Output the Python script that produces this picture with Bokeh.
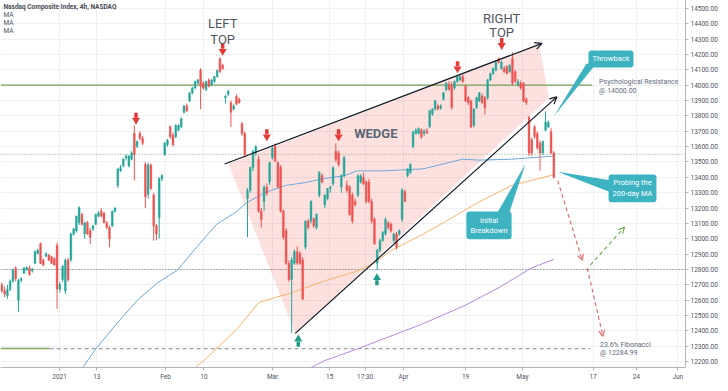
import numpy as np
from bokeh.plotting import figure
from bokeh.models import Range1d, FixedTicker, NumeralTickFormatter, Label, Arrow, OpenHead
from bokeh.embed import file_html
from bokeh.resources import INLINE

# ---------------- data (4h candles, Nasdaq Composite) ----------------
candles = [
(12700,12715,12650,12660),(12660,12690,12620,12640),(12629,12700,12610,12672),(12672,12735,12660,12724),
(12724,12805,12714,12800),(12809,12820,12724,12740),(12600,12740,12524,12730),(12730,12750,12715,12740),
(12777,12815,12770,12809),(12800,12820,12790,12812),(12809,12825,12760,12767),(12790,12810,12780,12800),
(12841,12925,12835,12915),(12904,12935,12900,12925),(12968,12975,12835,12841),(12862,12870,12820,12830),
(12887,12910,12880,12904),(12894,12900,12855,12862),(12883,12890,12835,12841),(12870,12880,12825,12830),
(12957,12975,12545,12672),(12672,12720,12650,12703),(12735,12830,12720,12820),(12661,12870,12640,12862),
(12862,12875,12720,12735),(12862,13040,12850,13031),(13031,13070,13020,13063),(13052,13150,13040,13147),
(13105,13210,13090,13204),(13158,13170,13085,13094),(13031,13110,13000,13105),(13105,13115,13025,13031),
(13052,13070,12965,13010),(13063,13090,13050,13084),(13094,13165,13090,13158),(13147,13180,13140,13168),
(13179,13200,13140,13147),(13168,13175,13100,13105),(13105,13115,13065,13073),(13073,13085,12945,12999),
(13084,13185,13075,13179),(13179,13205,13170,13200),(13348,13460,13330,13453),(13443,13480,13435,13464),
(13474,13525,13465,13517),(13527,13550,13510,13538),(13474,13545,13465,13538),(13517,13570,13510,13559),
(13685,13738,13380,13548),(13601,13640,13590,13633),(13685,13700,13640,13654),(13654,13670,13610,13622),
(13485,13500,13200,13274),(13290,13495,13260,13480),(13480,13490,13320,13327),(13284,13300,12988,13084),
(13084,13095,12990,13031),(13137,13400,13000,13390),(13390,13420,13375,13411),(13548,13630,13540,13622),
(13612,13650,13600,13643),(13728,13740,13650,13664),(13675,13690,13600,13612),(13664,13745,13655,13738),
(13707,13745,13700,13738),(13728,13790,13720,13781),(13823,13870,13815,13865),(13865,13880,13825,13833),
(13897,13955,13890,13949),(13949,13990,13940,13981),(13981,14030,13975,14023),(14013,14040,14005,14034),
(14097,14110,13844,13992),(14013,14025,13970,13981),(13971,14030,13960,14023),(14034,14045,13985,13992),
(14002,14040,13995,14034),(14023,14060,14015,14055),(14055,14100,14050,14097),(14171,14182,14080,14087),
(14129,14140,14100,14108),(13918,13935,13880,13928),(13939,13970,13930,13960),(13886,13900,13728,13823),
(13844,13875,13835,13865),(13928,13940,13870,13876),(13907,13920,13880,13886),(13749,13760,13670,13685),
(13685,13700,13530,13548),(13263,13330,13010,13316),(13316,13470,13300,13464),(13464,13580,13440,13569),
(13559,13610,13540,13601),(13517,13540,13170,13179),(13179,13200,13073,13126),(13242,13350,13180,13337),
(13337,13360,13280,13295),(13369,13500,13350,13495),(13527,13600,13515,13590),(13601,13620,13500,13506),
(13495,13505,13330,13337),(13464,13480,13170,13179),(13179,13190,12995,13010),(13052,13070,12830,12841),
(12841,12860,12720,12735),(12735,12880,12387,12862),(12841,12930,12830,12915),(12915,12950,12830,12841),
(12904,12920,12830,12841),(12862,12880,12600,12608),(12946,13120,12930,13115),(13115,13130,13060,13073),
(13115,13250,13100,13242),(13130,13140,13070,13084),(13073,13165,13060,13158),(13284,13440,13270,13432),
(13411,13425,13360,13369),(13221,13290,13200,13284),(13263,13330,13250,13327),(13327,13345,13300,13337),
(13358,13470,13345,13464),(13569,13622,13500,13517),(13559,13575,13470,13485),(13337,13420,13300,13411),
(13411,13540,13400,13527),(13348,13380,13300,13316),(13337,13350,13150,13158),(13284,13300,13100,13115),
(13242,13260,13210,13221),(13284,13420,13270,13411),(13369,13420,13360,13411),(13400,13430,13350,13358),
(13369,13380,13230,13242),(13369,13390,13230,13242),(13242,13260,13100,13115),(13126,13140,12960,12968),
(12841,12935,12798,12925),(12925,13000,12910,12989),(12989,13050,12980,13041),(13031,13140,13020,13126),
(13105,13115,13060,13073),(13094,13105,13040,13052),(12989,13040,12970,13031),(13031,13045,12930,12946),
(13031,13060,13020,13052),(13126,13330,13110,13316),(13306,13320,13240,13242),(13411,13460,13400,13453),
(13432,13490,13420,13485),(13601,13700,13590,13696),(13685,13720,13680,13707),(13685,13725,13680,13717),
(13707,13720,13650,13664),(13686,13715,13670,13700),(13700,13720,13680,13690),(13730,13840,13720,13834),
(13812,13850,13800,13844),(13844,13905,13835,13897),(13865,13880,13835,13844),(13850,13875,13840,13865),
(13908,13955,13900,13950),(13971,14020,13960,14013),(14003,14025,13965,13971),(14003,14020,13840,13855),
(13982,14030,13970,14024),(14024,14060,14015,14055),(14034,14065,14025,14055),(14055,14070,14015,14024),
(13992,14000,13890,13897),(13918,13930,13870,13886),(13897,13905,13720,13728),(13739,13850,13725,13844),
(13855,13925,13845,13918),(13897,13955,13890,13950),(13929,13945,13880,13886),(13918,13930,13810,13855),
(13918,14040,13905,14034),(14034,14080,14025,14076),(14076,14115,14065,14108),(14098,14155,14090,14150),
(14172,14180,14140,14150),(14108,14160,14100,14150),(14108,14125,14080,14087),(14119,14130,14070,14076),
(14087,14135,14080,14129),(14172,14214,14000,14013),(14087,14100,14015,14024),(14003,14040,13990,14024),
(14013,14030,13970,13982),(14013,14020,13890,13897),(13908,13920,13870,13886),(13791,13800,13540,13559),
(13644,13660,13540,13559),(13728,13740,13650,13665),(13686,13700,13580,13591),(13622,13640,13443,13559),
(13559,13640,13545,13633),(13707,13830,13700,13760),(13728,13770,13720,13757),(13696,13720,13550,13559),
(13559,13570,13390,13401.86),
]
opens, highs, lows, closes = (list(v) for v in zip(*candles))

# moving averages (bar index, value)
ma_blue_bar = [29.1, 34.0, 42.2, 49.4, 56.5, 63.6, 70.7, 77.8, 85.0, 88.5, 95.7, 102.8, 109.9, 117.0, 124.1, 128.8, 138.4, 152.6, 166.9, 172.9, 184.7, 198.9, 200.0]
ma_blue_val = [12156, 12283, 12460, 12606, 12714, 12796, 12948, 13094, 13176, 13233, 13303, 13347, 13366, 13392, 13411, 13442, 13442, 13455, 13518, 13512, 13518, 13537, 13537]
ma_orange_bar = [69.7, 73.2, 85.0, 93.2, 105.3, 117.0, 128.8, 134.8, 140.9, 152.6, 160.8, 172.9, 184.7, 200.0]
ma_orange_val = [12156, 12207, 12409, 12587, 12650, 12726, 12790, 12840, 12923, 13030, 13113, 13240, 13347, 13417]
ma_purple_bar = [111.3, 117.0, 128.8, 152.6, 168.0, 180.1, 191.8, 200.0]
ma_purple_val = [12156, 12207, 12283, 12447, 12568, 12682, 12809, 12866]

# key levels
psych_level = 14000.00
support_level = 13550.00
lower_level = 12800.00
fib_level = 12284.99
last_close = 13401.86

x_tick_bars = [20.9, 34.4, 59.3, 73.2, 98.1, 118.8, 131.6, 145.5, 168.0, 188.6, 214.2, 229.9, 244.9]
x_tick_labels = ["2021", "13", "Feb", "10", "Mar", "15", "17:30", "Apr", "19", "May", "17", "24", "Jun"]
y_ticks = list(range(12200, 14501, 100))

# ---------------- figure ----------------
X0, X1 = -0.5, 247.7
Y0, Y1 = 12162, 14551
p = figure(width=720, height=383, x_range=Range1d(X0, X1), y_range=Range1d(Y0, Y1),
           output_backend="svg", toolbar_location=None, y_axis_location="right",
           min_border=0, outline_line_color=None, background_fill_color="white",
           border_fill_color="white")

FONT = "Roboto"
GRID = "#eef0f4"
p.xgrid.ticker = FixedTicker(ticks=x_tick_bars)
p.ygrid.ticker = FixedTicker(ticks=y_ticks)
p.xgrid.grid_line_color = GRID
p.ygrid.grid_line_color = GRID

p.yaxis.ticker = FixedTicker(ticks=y_ticks)
p.yaxis.formatter = NumeralTickFormatter(format="0.00")
p.xaxis.ticker = FixedTicker(ticks=x_tick_bars)
p.xaxis.major_label_overrides = {b: l for b, l in zip(x_tick_bars, x_tick_labels)}
for ax in (p.xaxis, p.yaxis):
    ax.major_label_text_font_size = "6.5px"
    ax.major_label_text_font = FONT
    ax.major_label_text_color = "#50535e"
    ax.axis_line_color = "#b2b5be"
    ax.major_tick_line_color = "#b2b5be"
    ax.major_tick_out = 3
    ax.major_tick_in = 0
    ax.minor_tick_line_color = None
    ax.major_label_standoff = 2

upx = (Y1 - Y0) / 369.0   # price units per screen pixel (approx)

# wedge fill
p.patch([82.1, 106.3, 198.2, 194.7], [13487, 12384, 13918, 14260],
        fill_color="#f44336", fill_alpha=0.16, line_color=None)

# horizontal levels
p.line([X0, 213.9], [psych_level, psych_level], line_color="#74a05a", line_width=1.2)
p.line([X0, X1], [support_level, support_level], line_color="#8f9f78", line_width=1, line_dash="1 2")
p.line([X0, X1], [lower_level, lower_level], line_color="#5f6a60", line_width=1, line_dash="1 2")
p.line([X0, 17.3], [fib_level, fib_level], line_color="#7fa860", line_width=1.5)
p.line([17.3, 213.2], [fib_level, fib_level], line_color="#9e9e9e", line_width=1.2, line_dash="4 3")

# moving averages
p.line(ma_blue_bar, ma_blue_val, line_color="#6fa8dc", line_width=1)
p.line(ma_orange_bar, ma_orange_val, line_color="#f6b26b", line_width=1)
p.line(ma_purple_bar, ma_purple_val, line_color="#b48ad8", line_width=1)

# candles
x = np.arange(len(opens))
o = np.array(opens); c = np.array(closes)
cols = ["#26a69a" if cc >= oo else "#ef5350" for oo, cc in zip(o, c)]
p.segment(x, highs, x, lows, line_color=cols, line_width=1)
p.vbar(x=x, width=0.62, top=np.maximum(o, c), bottom=np.minimum(o, c),
       fill_color=cols, line_color=cols, line_width=0.5)

# wedge boundaries
for (xs, ys, xe, ye) in [(80.7, 13487, 195.7, 14272), (106.3, 12384, 201.1, 13924)]:
    p.add_layout(Arrow(x_start=xs, y_start=ys, x_end=xe, y_end=ye, line_color="#131722",
                       line_width=1.2, end=OpenHead(size=7, line_color="#131722", line_width=1.2)))

# projection arrows
RED = "#e06666"
GREEN = "#6aa84f"
for (xs, ys, xe, ye, col) in [(201.4, 13379, 210.3, 12859, RED), (212.1, 12809, 217.8, 12365, RED),
                              (213.2, 12828, 225.6, 13075, GREEN)]:
    p.add_layout(Arrow(x_start=xs, y_start=ys, x_end=xe, y_end=ye, line_color=col, line_width=1.1,
                       line_dash="4 3", end=OpenHead(size=6, line_color=col, line_width=1.1)))

# red down / green up markers
down_b = [80.0, 48.6, 96.0, 122.0, 165.1, 181.1]
down_p = [14234, 13785, 13677, 13677, 14120, 14272]
up_b = [107.4, 135.9]
up_p = [12333, 12733]
ARED = "#e53935"
AGRN = "#1f9b87"
p.rect(down_b, [v + 3 * upx for v in down_p], width=3.5, height=5, width_units="screen",
       height_units="screen", fill_color=ARED, line_color=None)
p.scatter(down_b, [v - 2 * upx for v in down_p], marker="inverted_triangle", size=8,
          fill_color=ARED, line_color=None)
p.rect(up_b, [v - 3 * upx for v in up_p], width=3.5, height=5, width_units="screen",
       height_units="screen", fill_color=AGRN, line_color=None)
p.scatter(up_b, [v + 2 * upx for v in up_p], marker="triangle", size=8,
          fill_color=AGRN, line_color=None)

# callout pointers
CALL = "#3db3c2"
p.patch([211.8, 215.3, 200.0], [14140, 14140, 13797], fill_color=CALL, line_color=None)
p.patch([201.4, 221.0, 221.0], [13436, 13380, 13300], fill_color=CALL, line_color=None)
p.patch([178.6, 183.3, 189.7], [13140, 13140, 13487], fill_color=CALL, line_color=None)

def lab(xv, yv, text, size, color, align="center", style="normal", **kw):
    p.add_layout(Label(x=xv, y=yv, text=text, text_font_size=size, text_color=color,
                       text_align=align, text_baseline="middle", text_font=FONT,
                       text_font_style=style, **kw))

# callout boxes
lab(220.7, 14171, "Throwback", "7.5px", "white", background_fill_color=CALL, padding=4, border_radius=3)
lab(228.5, 13328, "Probing the\n200-day MA", "7.5px", "white", background_fill_color=CALL, padding=4, border_radius=3)
lab(176.5, 13087, "Initial\nBreakdown", "7.5px", "white", background_fill_color=CALL, padding=4, border_radius=3)

# big texts
lab(80.0, 14399, "LEFT", "13px", "#50555f")
lab(80.0, 14298, "TOP", "13px", "#50555f")
lab(181.1, 14437, "RIGHT", "13px", "#50555f")
lab(181.1, 14342, "TOP", "13px", "#50555f")
lab(135.5, 13683, "WEDGE", "13px", "#5b6675", style="bold")

# level texts
lab(216.4, 14019, "Psychological Resistance", "7px", "#5f6b7a", align="left")
lab(216.4, 13962, "@ 14000.00", "7px", "#5f6b7a", align="left")
lab(216.7, 12308, "23.6% Fibonacci", "7px", "#5f6b7a", align="left")
lab(216.7, 12257, "@ 12284.99", "7px", "#5f6b7a", align="left")

# header
p.add_layout(Label(x=3, x_units="screen", y=14507, text="Nasdaq Composite Index, 4h, NASDAQ",
                   text_font_size="6.5px", text_font=FONT, text_font_style="bold",
                   text_color="#4a4d55", text_baseline="middle"))
for yv in (14456, 14406, 14355):
    p.add_layout(Label(x=3, x_units="screen", y=yv, text="MA", text_font_size="6.5px",
                       text_font=FONT, text_color="#50535e", text_baseline="middle"))

# price-scale badges
for yv, txt, bg in [(support_level, "13550.00", "#3b7a2a"), (lower_level, "12800.00", "#3b7a2a"),
                    (last_close, "13401.86", "#f05454")]:
    p.add_layout(Label(x=X1, y=yv, x_offset=2, text=txt, text_font_size="6.5px", text_font=FONT,
                       text_color="white", text_baseline="middle", background_fill_color=bg,
                       padding=2))
p.add_layout(Label(x=X1, y=14500, x_offset=9, text="USD", text_font_size="5.5px", text_font=FONT,
                   text_color="#50535e", text_baseline="middle", background_fill_color="white",
                   border_line_color="#c8cad0", padding=1, border_radius=3))

open("out.html", "w").write(file_html(p, INLINE))
